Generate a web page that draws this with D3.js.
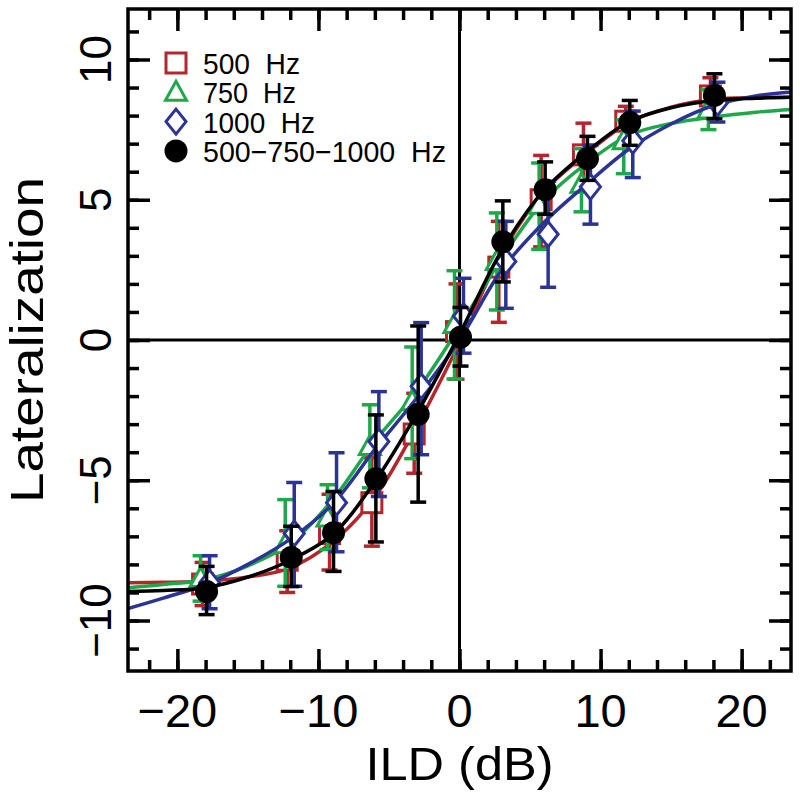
<!DOCTYPE html>
<html>
<head>
<meta charset="utf-8">
<script src="https://cdn.jsdelivr.net/npm/d3@7"></script>
<style>
html,body{margin:0;padding:0;background:#fff;}
svg{display:block;}
text{font-family:"Liberation Sans",Arial,Helvetica,sans-serif;fill:#000;}
</style>
</head>
<body>
<svg id="chart" width="800" height="798"></svg>
<script>
// ---------- data ----------
const ild = [-18, -12, -9, -6, -3, 0, 3, 6, 9, 12, 18];

const red500Mean  = [-8.7, -7.85, -6.9, -5.8, -3.35, 0.3, 2.6, 5.0, 6.6, 7.8, 8.7];
const red500Hi    = [-7.93, -6.8, -5.5, -4.2, -1.9, 2.0, 4.23, 6.58, 7.73, 8.33, 9.35];
const red500Lo    = [-9.47, -9.0, -8.2, -7.35, -4.75, -1.4, 0.63, 3.32, 5.5, 7.2, 8.0];

const green750Mean = [-8.5, -7.3, -6.35, -3.8, -2.2, 0.55, 2.8, 4.8, 5.55, 7.1, 8.2];
const green750Hi   = [-7.69, -5.69, -5.16, -2.31, -0.25, 2.47, 4.53, 6.31, 6.82, 7.85, 8.92];
const green750Lo   = [-9.31, -8.78, -7.47, -5.27, -4.23, -1.39, 1.07, 3.23, 4.57, 5.93, 7.5];

const blue1000Mean = [-8.65, -6.9, -5.8, -3.62, -1.65, 0.85, 2.8, 3.77, 5.46, 7.1, 8.45];
const blue1000Hi   = [-7.69, -5.08, -4.02, -1.84, 0.62, 2.2, 4.23, 5.66, 6.94, 8.16, 9.19];
const blue1000Lo   = [-9.58, -8.78, -7.55, -5.58, -4.09, -0.47, 1.13, 1.88, 4.13, 5.79, 7.77];

const allMean = [-8.97, -7.75, -6.87, -4.95, -2.65, 0.1, 3.5, 5.36, 6.47, 7.75, 8.72];
const allHi   = [-8.07, -6.64, -5.4, -2.67, 0.5, 1.16, 4.96, 6.35, 7.26, 8.54, 9.49];
const allLo   = [-9.79, -8.79, -8.25, -7.2, -5.78, -0.93, 2.07, 4.48, 5.69, 6.94, 7.89];

// fitted curves
const fitX      = [-23.5, -21, -18, -15, -12, -9, -6, -3, 0, 3, 6, 9, 12, 15, 18, 21, 23.5];
const fitRed    = [-8.65, -8.64, -8.6, -8.45, -8.12, -7.2, -5.6, -3.05, -0.1, 3.1, 5.3, 6.65, 7.75, 8.3, 8.58, 8.64, 8.65];
const fitGreen  = [-8.83, -8.72, -8.54, -8.05, -7.25, -5.7, -3.6, -1.8, 0.47, 2.92, 4.98, 6.3, 7.3, 7.72, 7.95, 8.12, 8.22];
const fitBlue   = [-9.57, -9.2, -8.72, -8.0, -7.1, -5.85, -3.9, -2.05, 0.0, 2.5, 4.2, 5.55, 6.8, 7.7, 8.36, 8.7, 8.84];
const fitAll    = [-8.97, -8.93, -8.83, -8.45, -7.85, -6.94, -5.05, -2.6, 0.2, 3.2, 5.34, 6.7, 7.78, 8.28, 8.54, 8.62, 8.65];

const legendLabels = ["500  Hz", "750  Hz", "1000  Hz", "500\u2212750\u22121000  Hz"];
const xTicksMajor = [-20, -10, 0, 10, 20];
const yTicksMajor = [-10, -5, 0, 5, 10];
const xLabel = "ILD (dB)";
const yLabel = "Lateralization";

// ---------- layout ----------
const svg = d3.select("#chart");
const L = 128, R = 791, T = 9, B = 671;
const x = d3.scaleLinear().domain([-23.5, 23.5]).range([L, R]);
const y = d3.scaleLinear().domain([-11.8, 11.8]).range([B, T]);

const RED = "#b3262c", GREEN = "#1fa84a", BLUE = "#2b3494", BLACK = "#000";

const series = [
  {name: legendLabels[0], color: RED,   mean: red500Mean,   hi: red500Hi,   lo: red500Lo,   fit: fitRed,   shape: "square",   dx: -3},
  {name: legendLabels[1], color: GREEN, mean: green750Mean, hi: green750Hi, lo: green750Lo, fit: fitGreen, shape: "triangle", dx: -5},
  {name: legendLabels[2], color: BLUE,  mean: blue1000Mean, hi: blue1000Hi, lo: blue1000Lo, fit: fitBlue,  shape: "diamond",  dx: 4},
  {name: legendLabels[3], color: BLACK, mean: allMean,      hi: allHi,      lo: allLo,      fit: fitAll,   shape: "circle",   dx: 1}
];

const plot = svg.append("g");
svg.append("clipPath").attr("id", "clip")
  .append("rect").attr("x", L).attr("y", T).attr("width", R - L).attr("height", B - T);

// zero lines
plot.append("line").attr("x1", x(0)).attr("x2", x(0)).attr("y1", T).attr("y2", B)
  .attr("stroke", "#000").attr("stroke-width", 3);
plot.append("line").attr("x1", L).attr("x2", R).attr("y1", y(0)).attr("y2", y(0))
  .attr("stroke", "#000").attr("stroke-width", 3);

function marker(g, shape, cx, cy, color) {
  if (shape === "square") {
    g.append("rect").attr("x", cx - 10).attr("y", cy - 10).attr("width", 20).attr("height", 20)
      .attr("fill", "#fff").attr("stroke", color).attr("stroke-width", 3);
  } else if (shape === "triangle") {
    g.append("path").attr("d", `M${cx},${cy - 11}L${cx + 10.5},${cy + 8}L${cx - 10.5},${cy + 8}Z`)
      .attr("fill", "#fff").attr("stroke", color).attr("stroke-width", 3).attr("stroke-linejoin", "miter");
  } else if (shape === "diamond") {
    g.append("path").attr("d", `M${cx},${cy - 12.5}L${cx + 10},${cy}L${cx},${cy + 12.5}L${cx - 10},${cy}Z`)
      .attr("fill", "#fff").attr("stroke", color).attr("stroke-width", 3);
  } else {
    g.append("circle").attr("cx", cx).attr("cy", cy).attr("r", 11.5).attr("fill", color);
  }
}

const line = d3.line().curve(d3.curveCatmullRom.alpha(0.5));

series.forEach(s => {
  const g = plot.append("g");
  g.append("path")
    .attr("clip-path", "url(#clip)")
    .attr("d", line(fitX.map((v, i) => [x(v), y(s.fit[i])])))
    .attr("fill", "none").attr("stroke", s.color).attr("stroke-width", 3.5);
  ild.forEach((v, i) => {
    const cx = x(v) + s.dx;
    g.append("line").attr("x1", cx).attr("x2", cx).attr("y1", y(s.hi[i])).attr("y2", y(s.lo[i]))
      .attr("stroke", s.color).attr("stroke-width", 3.5);
    [s.hi[i], s.lo[i]].forEach(e => {
      g.append("line").attr("x1", cx - 8).attr("x2", cx + 8).attr("y1", y(e)).attr("y2", y(e))
        .attr("stroke", s.color).attr("stroke-width", 3.5);
    });
  });
  ild.forEach((v, i) => marker(g, s.shape, x(v) + s.dx, y(s.mean[i]), s.color));
});

// ---------- axes ----------
const xMinor = d3.range(-22, 23, 2);
const yMinor = d3.range(-11, 12, 1);
function axisTicks(axisGen, tr, vals, size) {
  const g = svg.append("g").attr("transform", tr)
    .call(axisGen.tickValues(vals).tickSize(size).tickFormat(""));
  g.select(".domain").remove();
  g.selectAll(".tick line").attr("stroke", "#000").attr("stroke-width", 3.5);
  return g;
}
axisTicks(d3.axisBottom(x), `translate(0,${B})`, xMinor, -11);
axisTicks(d3.axisBottom(x), `translate(0,${B})`, xTicksMajor, -22);
axisTicks(d3.axisTop(x), `translate(0,${T})`, xMinor, -11);
axisTicks(d3.axisTop(x), `translate(0,${T})`, xTicksMajor, -22);
axisTicks(d3.axisLeft(y), `translate(${L},0)`, yMinor, -11);
axisTicks(d3.axisLeft(y), `translate(${L},0)`, yTicksMajor, -22);
axisTicks(d3.axisRight(y), `translate(${R},0)`, yMinor, -11);
axisTicks(d3.axisRight(y), `translate(${R},0)`, yTicksMajor, -22);

svg.append("rect").attr("x", L).attr("y", T).attr("width", R - L).attr("height", B - T)
  .attr("fill", "none").attr("stroke", "#000").attr("stroke-width", 3.5);

// tick labels
const fmt = d3.format("d");
svg.append("g").selectAll("text").data(xTicksMajor).join("text")
  .attr("x", d => x(d)).attr("y", 727)
  .attr("text-anchor", "middle").attr("font-size", 47)
  .text(d => fmt(d));
svg.append("g").selectAll("text").data(yTicksMajor).join("text")
  .attr("transform", d => `translate(111,${y(d)}) rotate(-90)`)
  .attr("text-anchor", "middle").attr("font-size", 44)
  .text(d => fmt(d));

// axis titles
svg.append("text").attr("x", x(0)).attr("y", 780).attr("text-anchor", "middle")
  .attr("font-size", 47).attr("textLength", 188).attr("lengthAdjust", "spacingAndGlyphs").text(xLabel);
svg.append("text").attr("transform", `translate(43,${y(0)}) rotate(-90)`)
  .attr("text-anchor", "middle").attr("font-size", 46)
  .attr("textLength", 326).attr("lengthAdjust", "spacingAndGlyphs").text(yLabel);

// legend
const legendW = [97, 93, 112, 243];
const lg = svg.append("g");
series.forEach((s, i) => {
  const cy = 63 + i * 29.3;
  marker(lg, s.shape, 176, cy, s.color);
  lg.append("text").attr("x", 203).attr("y", cy + 11).attr("font-size", 29)
    .attr("xml:space", "preserve").style("white-space", "pre")
    .attr("textLength", legendW[i]).attr("lengthAdjust", "spacingAndGlyphs")
    .text(s.name);
});
</script>
</body>
</html>
